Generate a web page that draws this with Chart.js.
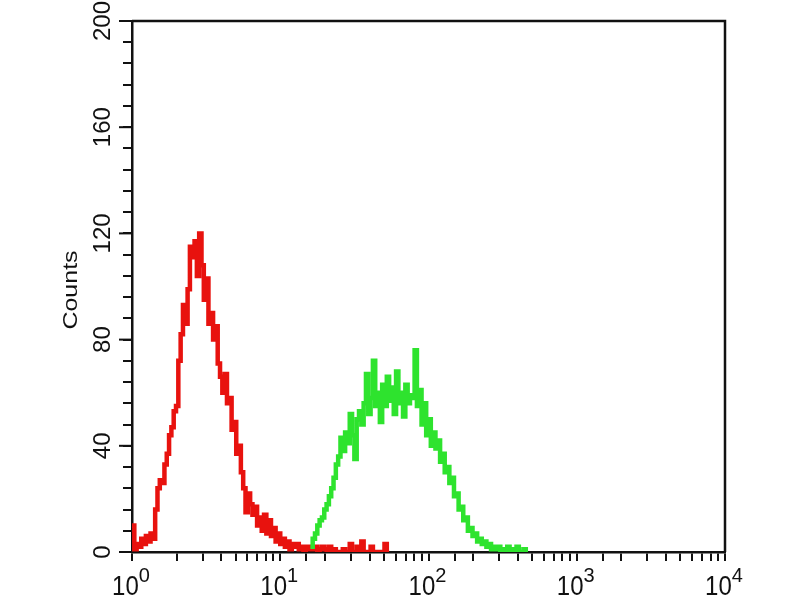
<!DOCTYPE html>
<html>
<head>
<meta charset="utf-8">
<script src="https://cdn.jsdelivr.net/npm/chart.js@4.4.1/dist/chart.umd.min.js"></script>
<style>
  html, body { margin: 0; background: #fff; }
  #wrap { width: 800px; height: 600px; }
</style>
</head>
<body>
<div id="wrap"><canvas id="histChart"></canvas></div>
<script>
// histogram channels: 64 per decade, 4 decades (10^0 .. 10^4)
const channelsPerDecade = 64;

// red (control) histogram, counts per channel starting at channel 0
const redStart = 0;
const redCounts = [
  10, 1, 3, 2, 5, 3, 6, 4, 7, 5,
  16, 24, 27, 26, 33, 37, 44, 47, 53, 55,
  72, 82, 93, 86, 99, 115, 111, 117, 104, 120,
  108, 95, 103, 86, 90, 80, 85, 71, 66, 60,
  67, 56, 58, 46, 49, 37, 40, 30, 24, 15,
  22, 18, 14, 17, 10, 13, 8, 14, 7, 12,
  6, 9, 4, 7, 3, 5, 2, 4, 1, 3,
  2, 3, 1, 2, 0, 2, 1, 2, 1, 2,
  0, 1, 2, 1, 0, 2, 0, 1, 0, 0,
  0, 1, 0, 0, 3, 0, 0, 2, 0, 4,
  0, 0, 0, 2, 0, 0, 0, 0, 0, 3,
  0, 0
];

// green (stained) histogram, counts per channel starting at channel 77
const greenStart = 77;
const greenCounts = [
  2, 5, 7, 10, 12, 13, 16, 18, 21, 24,
  28, 33, 36, 43, 38, 45, 41, 52, 44, 35,
  50, 53, 48, 56, 67, 52, 58, 72, 55, 60,
  49, 63, 55, 66, 57, 62, 52, 68, 56, 60,
  51, 63, 56, 59, 58, 76, 55, 61, 48, 56,
  44, 50, 40, 45, 39, 42, 34, 37, 30, 32,
  26, 28, 21, 22, 16, 17, 12, 13, 8, 9,
  6, 7, 4, 5, 3, 4, 2, 3, 1, 2,
  1, 2, 0, 1, 0, 2, 0, 1, 0, 2,
  0, 0, 1, 0
];

const xDecades = [1, 10, 100, 1000, 10000];
const xExponents = ['0', '1', '2', '3', '4'];
const yLabels = [0, 40, 80, 120, 160, 200];
const yTitle = 'Counts';

function toPoints(start, counts) {
  return counts.map((c, i) => ({ x: Math.pow(10, (start + i) / channelsPerDecade), y: c }));
}

const FONT = '"Liberation Sans", Arial, sans-serif';

// frame, tick labels and axis title drawn at the scale positions
const labelsPlugin = {
  id: 'labels',
  afterDraw(chart) {
    const ctx = chart.ctx;
    const area = chart.chartArea;
    const xs = chart.scales.x;
    const ys = chart.scales.y;
    ctx.save();
    ctx.strokeStyle = '#111';
    ctx.lineWidth = 2.5;
    ctx.beginPath();
    ctx.moveTo(area.left, area.top);
    ctx.lineTo(area.right, area.top);
    ctx.lineTo(area.right, area.bottom);
    ctx.stroke();

    // longer marks at the labelled y ticks
    ctx.lineWidth = 2;
    yLabels.forEach(v => {
      const py = ys.getPixelForValue(v);
      ctx.beginPath();
      ctx.moveTo(area.left - 13, py);
      ctx.lineTo(area.left, py);
      ctx.stroke();
    });

    ctx.fillStyle = '#111';
    // y labels, rotated
    ctx.font = '24px ' + FONT;
    ctx.textAlign = 'center';
    ctx.textBaseline = 'middle';
    yLabels.forEach(v => {
      const py = ys.getPixelForValue(v);
      ctx.save();
      ctx.translate(103, py);
      ctx.rotate(-Math.PI / 2);
      ctx.fillText(String(v), 0, 0);
      ctx.restore();
    });

    // axis title
    ctx.save();
    ctx.translate(71, 290);
    ctx.scale(1, 1.25);
    ctx.rotate(-Math.PI / 2);
    ctx.font = '20px ' + FONT;
    ctx.fillText(yTitle, 0, 0);
    ctx.restore();

    // x labels 10^n
    xDecades.forEach((v, i) => {
      const px = xs.getPixelForValue(v);
      ctx.save();
      ctx.font = '24px ' + FONT;
      const w1 = ctx.measureText('10').width;
      ctx.font = '20px ' + FONT;
      const w2 = ctx.measureText(xExponents[i]).width;
      const left = px - 1 - (w1 + w2) / 2;
      ctx.textAlign = 'left';
      ctx.textBaseline = 'alphabetic';
      ctx.save();
      ctx.translate(left, 595);
      ctx.scale(1, 1.15);
      ctx.font = '24px ' + FONT;
      ctx.fillText('10', 0, 0);
      ctx.restore();
      ctx.font = '20px ' + FONT;
      ctx.fillText(xExponents[i], left + w1, 582);
      ctx.restore();
    });
    ctx.restore();
  }
};

const ctx = document.getElementById('histChart').getContext('2d');
new Chart(ctx, {
  type: 'line',
  data: {
    datasets: [
      {
        label: 'green',
        data: toPoints(greenStart, greenCounts),
        borderColor: '#2ee32e',
        borderWidth: 4.5,
        stepped: true,
        pointRadius: 0,
        fill: false
      },
      {
        label: 'red',
        data: toPoints(redStart, redCounts),
        borderColor: '#e8120e',
        borderWidth: 4.5,
        stepped: true,
        pointRadius: 0,
        fill: false
      }
    ]
  },
  options: {
    responsive: true,
    maintainAspectRatio: false,
    animation: false,
    layout: { padding: { top: 21, right: 75, left: 0, bottom: 0 } },
    plugins: { legend: { display: false }, tooltip: { enabled: false } },
    scales: {
      x: {
        type: 'logarithmic',
        min: 1,
        max: 10000,
        ticks: { display: false },
        grid: { drawOnChartArea: false, drawTicks: true, tickLength: 9, color: '#111', lineWidth: 2 },
        border: { display: true, color: '#111', width: 2.5 },
        afterFit(scale) { scale.height = 48; }
      },
      y: {
        type: 'linear',
        min: 0,
        max: 200,
        ticks: { display: false, stepSize: 8 },
        grid: { drawOnChartArea: false, drawTicks: true, tickLength: 9, color: '#111', lineWidth: 2 },
        border: { display: true, color: '#111', width: 2.5 },
        afterFit(scale) { scale.width = 132; }
      }
    }
  },
  plugins: [labelsPlugin]
});
</script>
</body>
</html>
